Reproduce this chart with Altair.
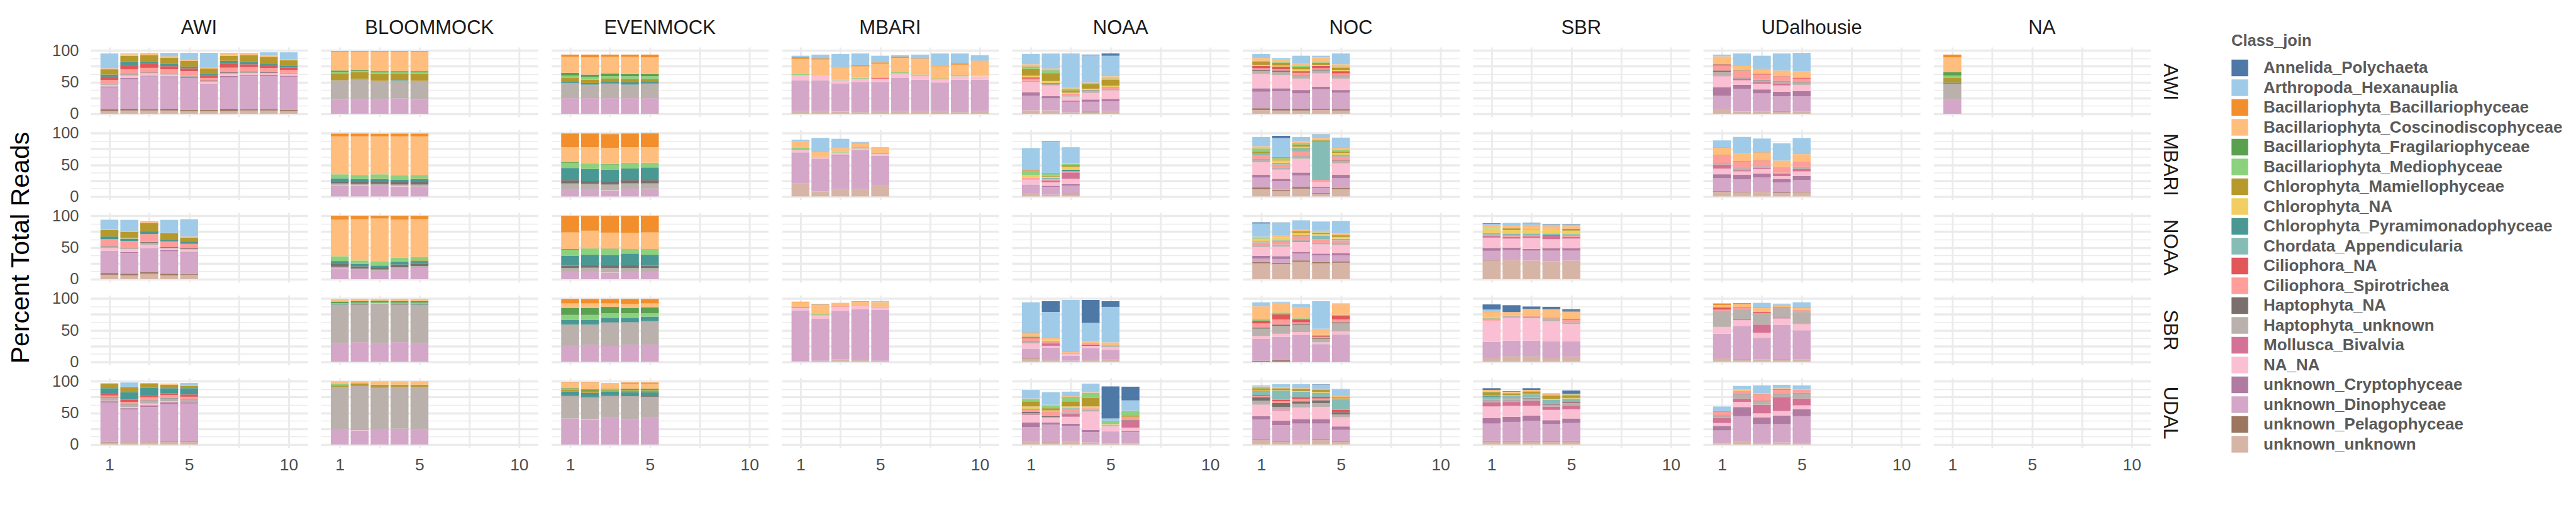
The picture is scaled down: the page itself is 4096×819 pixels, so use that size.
import altair as alt
import pandas as pd

CATEGORIES = [
    "Annelida_Polychaeta", "Arthropoda_Hexanauplia", "Bacillariophyta_Bacillariophyceae",
    "Bacillariophyta_Coscinodiscophyceae", "Bacillariophyta_Fragilariophyceae",
    "Bacillariophyta_Mediophyceae", "Chlorophyta_Mamiellophyceae", "Chlorophyta_NA",
    "Chlorophyta_Pyramimonadophyceae", "Chordata_Appendicularia", "Ciliophora_NA",
    "Ciliophora_Spirotrichea", "Haptophyta_NA", "Haptophyta_unknown", "Mollusca_Bivalvia",
    "NA_NA", "unknown_Cryptophyceae", "unknown_Dinophyceae", "unknown_Pelagophyceae",
    "unknown_unknown",
]
ABBR = ["AP", "AH", "BB", "BC", "BF", "BM", "CM", "CN", "CP", "CA", "CiN", "CS",
        "HN", "HU", "MB", "NN", "UC", "UD", "UP", "UU"]
COLORS = ["#4E79A7", "#A0CBE8", "#F28E2B", "#FFBE7D", "#59A14F", "#8CD17D", "#B6992D",
          "#F1CE63", "#499894", "#86BCB6", "#E15759", "#FF9D9A", "#79706E", "#BAB0AC",
          "#D37295", "#FABFD2", "#B07AA1", "#D4A6C8", "#9D7660", "#D7B5A6"]
SITES = ["AWI", "BLOOMMOCK", "EVENMOCK", "MBARI", "NOAA", "NOC", "SBR", "UDalhousie", "NA"]
LABS = ["AWI", "MBARI", "NOAA", "SBR", "UDAL"]
X_TICKS = [1, 3, 5, 7.5, 10]
Y_TICKS = [0, 12.5, 25, 37.5, 50, 62.5, 75, 87.5, 100]

# ---- row AWI ----
AWI_AWI = [
    dict(UU=4.2, UP=2.7, UD=34.5, UC=1.8, NN=2.4, HU=2.1, CS=5.4, CiN=5.4, CP=3.3, CM=8.4, BC=1.5, AH=23.4),
    dict(UU=5.1, UP=2.7, UD=46.8, UC=1.8, NN=3.9, HU=1.8, HN=0.9, CS=6.9, CiN=7.2, CP=4.5, CM=9.9, BC=2.4, AH=1.2),
    dict(UU=5.1, UP=1.8, UD=52.0, UC=1.2, NN=3.6, HU=0.9, HN=0.6, CS=7.2, CiN=6.0, CP=3.9, CM=10.2, BC=1.8, AH=1.5),
    dict(UU=5.1, UP=2.7, UD=49.8, UC=1.5, NN=2.7, HU=0.6, HN=0.6, CS=7.2, CiN=4.8, CP=3.9, CM=9.3, BC=1.5, BB=0.9, AH=5.4),
    dict(UU=4.2, UP=1.8, UD=50.4, UC=1.2, HU=2.4, CS=7.2, CiN=4.5, CP=2.7, CM=9.0, BC=1.8, AH=10.8),
    dict(UU=4.2, UP=1.8, UD=40.0, UC=0.9, NN=3.6, HU=0.9, HN=0.9, CS=4.2, CiN=4.5, CP=2.7, CM=7.5, BC=2.1, AH=22.8),
    dict(UU=4.2, UP=3.6, UD=49.8, UC=1.8, NN=3.3, HU=1.8, HN=0.9, CS=7.2, CiN=6.3, CP=4.5, CM=8.1, BC=2.7, BB=0.9),
    dict(UU=5.1, UP=1.8, UD=52.2, UC=1.8, NN=3.0, HU=1.5, HN=0.9, CS=7.2, CiN=4.5, CP=3.6, CM=10.8, BC=2.4, AH=1.2),
    dict(UU=5.1, UP=1.8, UD=52.2, UC=2.1, NN=2.4, HU=0.9, HN=0.9, CS=6.6, CiN=5.1, CP=2.7, CM=9.9, BC=1.8, AH=5.4),
    dict(UU=4.2, UP=1.8, UD=52.5, UC=1.5, NN=3.0, HU=0.9, HN=0.6, CS=4.5, CiN=3.6, CP=2.7, CM=9.0, BC=1.8, AH=10.8),
]
AWI_BLOOM = [
    dict(UD=22.5, HU=30.3, CM=11.1, BM=2.4, BF=1.8, BC=30.0, BB=0.9),
    dict(UU=0.9, UD=22.5, HU=30.6, CP=0.9, CM=10.8, BM=1.5, BF=1.8, BC=29.1, BB=0.9),
    dict(UD=23.4, HU=28.5, CM=10.8, BM=2.7, BF=1.8, BC=30.9, BB=0.9),
    dict(UD=24.3, HU=27.6, CP=1.2, CM=10.5, BM=1.8, BF=1.8, BC=30.9, BB=0.9),
    dict(UD=22.5, HU=29.4, CM=10.8, BM=2.7, BF=1.8, BC=30.9, BB=0.9),
]
AWI_EVEN = [
    dict(UD=24.6, HU=24.0, CP=2.7, CM=5.1, BM=3.6, BF=4.5, BC=25.2, BB=3.6),
    dict(UD=24.6, HU=21.3, CP=2.7, CM=5.1, BM=4.5, BF=3.6, BC=27.0, BB=4.5),
    dict(UD=24.6, HU=23.1, CP=2.7, CM=5.1, BM=3.9, BF=4.2, BC=26.1, BB=3.6),
    dict(UD=24.6, HU=21.3, CP=3.6, CM=5.4, BM=4.2, BF=3.6, BC=27.0, BB=3.6),
    dict(UD=24.6, HU=23.1, CP=2.7, CM=4.5, BM=4.2, BF=3.6, BC=26.1, BB=4.5),
]
AWI_MBARI = [
    dict(UU=4.5, UD=48.3, NN=8.1, BM=1.8, BC=23.7, BB=2.7, AH=2.4),
    dict(UU=4.5, UD=48.3, NN=7.2, BM=0.9, BC=24.6, BB=1.8, AH=6.0),
    dict(UU=3.3, UD=44.1, NN=5.4, BM=1.2, BC=18.9, BB=0.9, AH=20.4),
    dict(UU=2.7, UD=47.4, NN=5.4, BM=1.2, BC=18.0, BB=1.8, AH=18.6),
    dict(UU=4.5, UD=45.6, NN=5.4, CiN=1.2, BM=0.9, BC=21.6, BB=1.8, AH=10.5),
    dict(UU=4.5, UD=51.9, NN=7.2, BM=1.8, BC=22.8, BB=1.8, AH=2.4),
    dict(UU=4.5, UD=49.2, NN=6.3, BM=1.8, BC=24.6, BB=0.9, AH=6.0),
    dict(UU=4.5, UD=44.7, NN=4.8, BM=1.5, BC=19.2, BB=0.6, AH=19.8),
    dict(UU=2.7, UD=51.0, NN=5.4, BM=1.8, BC=16.5, BB=1.8, AH=15.9),
    dict(UU=4.5, UD=49.2, NN=5.4, CN=1.8, BC=21.9, BB=0.9, AH=8.7),
]
AWI_NOAA = [
    dict(UU=5.4, UD=23.1, UC=5.4, NN=16.2, HU=1.8, CS=3.6, CiN=1.8, CN=2.7, CM=10.8, BM=2.7, BF=0.9, BC=3.6, AH=16.3),
    dict(UU=5.4, UD=18.9, UC=3.6, NN=16.8, HU=1.8, HN=0.9, CiN=0.9, CN=3.3, CM=12.6, BM=3.6, BF=0.9, BC=2.7, AH=23.6),
    dict(UU=2.4, UD=16.5, UC=1.8, NN=6.3, HU=0.9, CS=3.9, CN=1.5, CM=3.9, BM=2.7, BC=1.5, AH=53.7),
    dict(UU=2.4, UP=1.2, UD=15.3, UC=3.6, NN=9.9, HU=1.8, CS=2.7, CP=0.9, CN=1.8, CM=6.9, BM=1.8, BC=0.9, AH=43.2, AP=0.9),
    dict(UU=4.5, UD=15.3, UC=3.6, NN=13.5, HU=1.8, CS=2.7, CP=0.9, CN=1.8, CM=9.6, BM=1.8, BC=3.6, AH=32.4, AP=3.6),
]
AWI_NOC = [
    dict(UU=6.0, UP=2.7, UD=26.1, UC=5.4, NN=22.5, HU=4.5, HN=1.8, CS=2.7, CiN=3.6, CN=1.8, CM=5.4, BM=0.9, BC=4.5, AH=6.3),
    dict(UU=5.1, UP=2.7, UD=27.9, UC=4.5, NN=20.7, HU=5.4, HN=1.8, CS=1.8, CiN=4.5, CN=1.8, CM=4.5, BM=1.8, BC=3.6, AH=1.8),
    dict(UU=5.1, UP=2.7, UD=24.3, UC=5.4, NN=18.0, HU=4.5, HN=0.9, CS=3.6, CiN=2.7, CN=2.7, CM=3.6, BM=1.8, BC=3.6, AH=12.6),
    dict(UU=6.0, UP=1.8, UD=30.6, UC=4.5, NN=20.7, HU=4.5, HN=1.8, CS=1.8, CiN=3.6, CN=1.8, CM=3.6, BM=1.8, BC=6.3, AH=2.7),
    dict(UU=5.1, UP=1.8, UD=26.1, UC=4.5, NN=18.0, HU=4.5, HN=0.9, CS=2.7, CiN=3.6, CN=1.8, CM=3.6, BM=1.8, BC=3.6, AH=17.1),
]
AWI_UDAL = [
    dict(UU=6.0, UD=22.5, UC=13.5, NN=17.1, MB=0.9, HU=6.3, HN=1.8, CS=8.1, CiN=1.8, BM=0.9, BC=11.7, AH=2.7),
    dict(UU=3.3, UD=36.0, UC=6.3, NN=7.2, MB=2.7, HU=2.7, CS=9.0, CiN=0.9, BM=0.9, BC=6.3, AH=19.8),
    dict(UU=3.3, UD=28.8, UC=6.3, NN=9.0, MB=2.7, HU=2.7, HN=0.9, CS=8.1, CiN=0.9, CM=0.9, BC=6.3, BB=0.9, AH=20.7),
    dict(UU=3.3, UP=0.9, UD=23.4, UC=7.2, NN=9.9, MB=2.7, HU=3.6, HN=0.9, CS=6.3, CiN=0.9, BC=9.0, AH=27.0),
    dict(UU=3.3, UD=24.3, UC=8.1, NN=9.9, HU=3.6, HN=0.9, CS=5.4, CiN=0.9, BM=0.9, BC=9.9, AH=28.8),
]
AWI_NA = [
    dict(UD=23.1, HU=24.3, CP=1.8, CM=7.2, BM=3.6, BF=5.4, BC=23.4, BB=4.5),
]

# ---- row MBARI ----
MBARI_BLOOM = [
    dict(UD=17.5, NN=0.9, HU=2.1, HN=3.6, CP=4.5, BM=6.3, BC=59.8, BB=4.2, AH=1.2),
    dict(UD=16.6, NN=0.9, HU=2.1, HN=4.5, CP=3.6, BM=6.3, BC=60.7, BB=4.2, AH=1.2),
    dict(UD=17.5, HU=2.1, HN=4.5, CP=3.6, CM=0.9, BM=6.3, BC=59.8, BB=4.2),
    dict(UD=15.7, NN=0.9, HU=2.1, HN=4.5, CP=3.6, BM=6.3, BC=61.6, BB=4.2, AH=1.2),
    dict(UD=15.7, HU=3.0, HN=5.4, CP=3.6, CM=0.9, BM=5.4, BC=60.7, BB=4.2, AH=1.2),
]
MBARI_EVEN = [
    dict(UD=11.5, HU=9.0, HN=5.4, CP=19.0, BM=8.2, BF=0.9, BC=23.6, BB=21.7),
    dict(UD=11.5, HU=8.2, HN=4.5, CP=19.0, BM=9.0, BC=25.4, BB=21.7),
    dict(UD=8.8, NN=0.9, HU=9.0, HN=5.4, CP=18.1, BM=8.2, BF=0.9, BC=25.4, BB=21.7, AH=0.9),
    dict(UD=12.4, HU=8.2, HN=5.4, CP=18.1, BM=9.0, BC=24.5, BB=21.7),
    dict(UD=11.5, NN=0.6, HU=8.5, HN=5.4, CP=19.0, CM=0.9, BM=7.3, BC=24.5, BB=21.7, AH=0.9),
]
MBARI_MBARI = [
    dict(UU=20.5, UD=49.0, NN=3.6, BM=3.6, BC=10.9, AH=1.8),
    dict(UU=7.9, UD=51.7, NN=1.8, CS=0.9, BC=7.3, BB=0.9, AH=21.8),
    dict(UU=11.5, UD=53.5, UC=0.9, NN=2.7, CS=0.6, BM=0.9, BC=6.3, AH=14.5),
    dict(UU=11.5, UD=61.6, NN=2.7, BM=1.8, BC=6.3, BB=0.9, AH=0.9),
    dict(UU=16.9, UD=47.1, NN=2.7, BM=1.8, BC=8.2, AH=0.9),
]
MBARI_NOAA = [
    dict(UU=4.5, UD=13.3, UC=0.9, NN=8.2, MB=0.6, CS=1.8, CN=4.5, BM=6.3, BB=0.9, AH=35.3),
    dict(UU=2.7, UD=12.4, UC=1.8, NN=5.4, MB=2.7, CS=1.8, CA=2.7, CN=1.8, CM=1.2, BM=3.6, BB=0.9, AH=48.9, AP=0.9),
    dict(UU=3.6, UP=0.9, UD=12.4, UC=2.7, NN=8.2, MB=10.0, CS=1.8, CP=2.7, CN=4.5, CM=2.7, BM=1.8, BC=0.9, AH=25.4),
]
MBARI_NOC = [
    dict(UU=11.5, UP=2.7, UD=15.4, UC=4.5, NN=19.9, HU=4.5, HN=0.9, CS=5.4, CA=2.7, CM=3.6, BM=4.5, BC=3.6, AH=14.5),
    dict(UU=8.8, UP=1.8, UD=13.6, UC=3.6, NN=14.5, HU=3.6, CS=4.5, CA=2.7, CN=3.6, CM=1.8, BM=1.8, BB=1.8, AH=29.9, AP=3.6),
    dict(UU=12.4, UP=2.7, UD=18.1, UC=4.5, NN=21.7, HU=4.5, CS=6.3, CA=4.5, CP=0.9, CN=2.7, CM=3.6, BM=1.8, BC=3.6, AH=6.3),
    dict(UU=4.5, UP=0.9, UD=7.9, UC=1.8, NN=8.2, HU=0.9, CS=1.8, CA=60.7, CM=1.8, BM=0.9, BC=2.7, AH=4.5, AP=0.9),
    dict(UU=11.5, UP=1.8, UD=15.4, UC=5.4, NN=18.1, HU=3.6, HN=0.9, CS=6.3, CA=2.7, CN=2.7, CM=2.7, BM=1.8, BC=3.6, BB=0.9, AH=15.4),
]
MBARI_UDAL = [
    dict(UU=7.3, UP=0.9, UD=20.5, UC=6.3, NN=9.0, MB=6.3, HU=2.7, CS=11.8, CM=0.9, BC=10.9, BB=0.9, AH=10.9),
    dict(UU=6.3, UP=0.9, UD=19.6, UC=7.3, NN=5.4, MB=1.8, HU=3.6, CS=10.0, CM=0.9, BC=11.8, AH=26.3),
    dict(UU=7.3, UD=22.4, UC=6.3, NN=7.3, MB=1.8, HU=2.7, CS=9.0, CM=0.9, BC=10.9, BB=0.9, AH=21.8),
    dict(UU=5.4, UP=0.9, UD=16.0, UC=5.4, NN=4.5, MB=3.6, HU=1.8, CS=9.0, BC=10.0, AH=27.2),
    dict(UU=6.3, UP=0.9, UD=18.7, UC=6.3, NN=7.3, MB=3.6, HU=3.6, CS=8.2, BC=11.8, AH=25.4),
]

# ---- row NOAA ----
NOAA_AWI = [
    dict(UU=7.0, UP=2.7, UD=35.0, NN=4.5, HU=2.1, HN=0.9, CS=10.8, CP=4.2, CM=10.5, BC=1.5, AH=14.5),
    dict(UU=6.0, UP=2.7, UD=32.5, UC=1.8, NN=4.2, HU=1.2, HN=0.6, CS=11.1, CP=3.9, CN=0.9, CM=9.9, BC=1.2, AH=17.5),
    dict(UU=8.7, UP=2.7, UD=37.7, NN=4.8, HU=3.6, HN=1.2, CS=12.3, CP=4.5, CM=12.7, BC=1.8, AH=1.2),
    dict(UU=6.0, UP=2.7, UD=35.2, UC=1.8, NN=2.7, HU=1.2, HN=0.9, CS=9.0, CP=3.0, CM=9.9, BC=0.6, AH=20.5),
    dict(UU=7.0, UP=1.2, UD=34.0, UC=0.9, NN=3.6, HU=0.9, HN=0.9, CS=7.2, CP=3.6, CM=6.3, BC=1.5, AH=27.4),
]
NOAA_BLOOM = [
    dict(UD=16.9, NN=0.6, HU=2.1, HN=4.2, CP=4.8, BM=7.5, BC=57.5, BB=6.3),
    dict(UD=15.0, HU=1.8, HN=3.6, CP=3.6, BM=5.4, BC=65.0, BB=5.4),
    dict(UD=13.0, HU=2.1, HN=3.6, CP=2.7, CM=0.9, BM=5.4, BC=67.8, BB=4.5),
    dict(UD=16.9, HU=1.8, HN=4.5, CP=3.6, CM=0.9, BM=6.3, BC=59.6, BB=6.3),
    dict(UD=17.8, HU=2.7, HN=3.6, CP=4.5, CM=0.9, BM=5.7, BC=59.3, BB=5.4),
]
NOAA_EVEN = [
    dict(UD=11.1, HU=6.3, HN=3.9, CP=15.4, BM=9.9, BF=0.9, BC=26.2, BB=26.2),
    dict(UD=11.7, HU=6.3, HN=3.9, CP=16.6, BM=9.9, BC=28.0, BB=23.5),
    dict(UD=9.9, NN=0.6, HU=6.9, HN=4.5, CP=16.3, BM=9.0, BF=0.9, BC=25.3, BB=26.5),
    dict(UD=11.1, HU=6.3, HN=4.5, CP=18.4, BM=7.2, BC=25.3, BB=27.1),
    dict(UD=11.1, HU=6.3, HN=3.9, CP=17.2, BM=9.0, BC=26.2, BB=26.3),
]
NOAA_NOC = [
    dict(UU=25.0, UP=1.8, UD=5.4, UC=4.5, NN=14.0, HU=2.7, CS=4.5, CA=1.8, CN=3.6, BM=0.9, BC=2.7, AH=20.8, AP=1.8),
    dict(UU=24.0, UP=1.8, UD=6.0, UC=4.5, NN=15.0, HU=3.6, CS=4.5, CA=1.8, CN=3.6, BM=0.9, BC=3.6, AH=19.0, AP=0.9),
    dict(UU=27.7, UP=1.8, UD=10.9, UC=2.7, NN=15.4, MB=0.9, HU=2.7, CS=5.4, CA=1.8, CN=3.6, CM=2.7, BC=3.6, AH=13.5),
    dict(UU=25.0, UP=1.8, UD=10.8, UC=2.7, NN=14.5, HU=2.7, CS=5.4, CA=5.4, CN=2.7, CM=1.8, BM=0.9, BC=2.7, AH=14.5),
    dict(UU=25.9, UP=1.8, UD=9.9, UC=3.6, NN=12.7, HU=3.6, CS=3.6, CA=2.7, CN=2.7, CM=2.7, BC=2.7, AH=19.9),
]
NOAA_SBR = [
    dict(UU=29.2, UP=0.6, UD=14.9, UC=4.5, NN=16.3, MB=2.7, CS=1.8, CA=2.7, CN=7.2, BM=0.9, BC=4.5, AH=1.8, AP=0.9),
    dict(UU=30.1, UD=15.7, UC=3.6, NN=14.5, MB=2.7, CS=1.8, CA=3.6, CN=5.4, CM=2.7, BC=4.5, BB=0.5, AH=3.6),
    dict(UU=29.2, UD=15.7, UC=2.7, NN=17.2, MB=2.7, CS=1.8, CA=2.7, CN=6.3, BM=0.9, BC=4.5, BB=0.6, AH=3.6, AP=0.9),
    dict(UU=28.3, UD=16.6, UC=3.6, NN=14.5, MB=5.4, CiN=0.9, CA=2.7, CN=6.3, BC=4.5, BB=0.6, AH=1.8, AP=0.9),
    dict(UU=29.2, UD=15.7, UC=3.6, NN=15.4, MB=2.7, CS=1.8, CA=2.7, CN=5.4, CM=2.7, BC=4.5, AH=1.8, AP=0.9),
]

# ---- row SBR ----
SBR_BLOOM = [
    dict(UD=29.8, HU=60.5, CP=1.2, BM=0.9, BF=2.7, BC=3.6),
    dict(UD=31.0, HU=59.3, HN=1.8, BM=0.9, BF=2.7, BC=3.6),
    dict(UD=29.8, HU=61.4, HN=0.6, CN=0.9, BM=0.9, BF=2.7, BC=2.7),
    dict(UD=31.0, HU=59.3, HN=1.8, BM=0.9, BF=2.7, BC=3.6),
    dict(UD=29.8, HU=59.6, HN=0.9, CP=0.9, BM=1.8, BF=2.7, BC=3.6),
]
SBR_EVEN = [
    dict(UD=26.2, HU=32.5, CP=7.2, BM=8.1, BF=10.8, BC=7.2, BB=7.2),
    dict(UD=27.1, HU=31.6, CP=7.2, BM=8.1, BF=10.8, BC=7.2, BB=7.2),
    dict(UD=25.3, HU=36.1, HN=0.9, CP=7.2, BM=7.2, BF=9.9, BC=5.4, BB=7.2),
    dict(UD=27.1, HU=35.2, CP=7.2, BM=7.2, BF=8.1, BC=6.3, BB=8.1),
    dict(UD=27.1, HU=37.0, CP=7.2, BM=5.4, BF=9.0, BC=6.3, BB=7.2),
]
SBR_MBARI = [
    dict(UU=0.9, UD=80.4, NN=3.6, CiN=0.9, BC=8.1, BB=0.9),
    dict(UU=1.8, UD=66.0, NN=5.4, BM=1.8, BC=14.5, BB=0.9, AH=0.9),
    dict(UU=3.6, UD=76.8, NN=6.3, CS=0.9, BC=5.4),
    dict(UU=2.7, UD=80.4, NN=5.4, BM=0.9, BC=5.4, BB=0.9),
    dict(UU=1.8, UD=80.4, NN=3.6, BF=0.6, BM=0.6, BC=7.2, AH=1.8),
]
SBR_NOAA = [
    dict(UU=5.4, UP=0.9, UD=14.5, NN=8.1, HU=2.7, HN=0.9, CS=4.5, CiN=1.8, BF=0.9, BC=5.4, BB=0.9, AH=47.9),
    dict(UU=2.7, UD=19.9, NN=2.7, MB=3.6, HN=0.9, CS=3.6, CN=0.9, BC=3.6, BB=0.9, AH=39.8, AP=17.0),
    dict(UU=1.8, UD=8.1, NN=2.7, CS=1.8, BC=1.8, BB=0.9, AH=80.4),
    dict(UU=2.7, UD=19.0, NN=3.6, HN=0.9, CS=3.6, BC=2.7, AH=28.9, AP=36.1),
    dict(UU=3.6, UD=15.4, NN=4.5, HU=1.8, CS=0.9, BC=4.5, AH=56.0, AP=9.0),
]
SBR_NOC = [
    dict(UP=1.8, UD=34.3, NN=4.5, HU=11.7, HN=1.8, CS=6.3, CiN=4.5, BM=2.7, BC=19.9, AH=6.3),
    dict(UP=2.7, UD=37.0, NN=4.5, HU=12.7, HN=1.8, CS=8.1, CiN=8.1, BM=2.7, BC=15.4, AH=1.8),
    dict(UP=0.9, UD=41.6, NN=4.5, HU=11.7, HN=1.8, CS=1.8, CiN=4.5, BM=1.8, BC=17.2, AH=5.4),
    dict(UP=0.9, UD=27.1, NN=2.7, HU=5.4, HN=0.9, CS=1.8, CiN=1.8, BM=1.8, BC=9.9, AH=43.4),
    dict(UP=0.9, UD=42.5, NN=4.5, HU=12.7, HN=1.8, CS=4.5, CiN=6.3, BM=0.9, BC=17.2, AH=0.9),
]
SBR_SBR = [
    dict(UU=5.4, UD=26.2, NN=33.4, CS=2.7, CiN=0.6, BM=0.9, BC=9.0, BB=0.6, AH=3.6, AP=8.1),
    dict(UU=8.1, UP=0.6, UD=24.7, NN=36.1, HU=2.7, CS=0.9, BC=5.4, AP=10.8),
    dict(UU=8.1, UP=0.6, UD=24.7, NN=35.2, HU=0.9, HN=0.9, CS=1.8, BM=0.9, BC=9.9, BB=0.6, AP=3.6),
    dict(UU=5.4, UD=27.1, NN=31.6, HU=2.7, CS=1.8, BF=0.9, BC=12.7, BB=0.9, AP=3.6),
    dict(UU=8.1, UD=24.4, NN=27.1, HU=2.7, CS=3.6, CiN=0.9, BM=0.9, BC=10.8, BB=1.8, AP=2.7),
]
SBR_UDAL = [
    dict(UU=5.4, UD=38.9, NN=10.8, HU=25.3, CS=1.8, CiN=3.6, BC=3.6, BB=2.7),
    dict(UU=3.6, UP=0.6, UD=52.4, NN=9.0, MB=1.8, HU=15.4, CS=1.8, CiN=0.9, BM=0.9, BC=4.5, BB=1.8),
    dict(UU=3.6, UD=34.3, NN=8.1, MB=12.7, HU=18.1, CiN=1.8, BC=6.3, BB=0.9, AH=7.2),
    dict(UU=3.6, UP=0.6, UD=54.2, NN=9.9, MB=1.8, HU=14.5, CiN=0.9, BM=0.9, BC=2.7, BB=0.9, AH=1.8),
    dict(UU=3.6, UD=46.1, NN=9.9, MB=0.9, HU=18.1, CS=1.8, CiN=0.9, BC=3.6, BB=0.9, AH=8.1),
]

# ---- row UDAL ----
UDAL_AWI = [
    dict(UU=3.3, UP=0.9, UD=62.2, UC=1.8, NN=0.9, HU=4.5, HN=0.9, CS=2.7, CiN=2.7, CP=9.0, CM=6.3, AH=1.8),
    dict(UU=3.6, UP=0.9, UD=51.0, UC=1.8, NN=1.8, HU=4.5, HN=0.9, CS=2.7, CiN=3.6, CP=11.7, CM=8.1, AH=7.2),
    dict(UU=3.6, UP=0.9, UD=54.7, UC=2.7, NN=2.7, HU=4.5, HN=0.9, CS=4.5, CiN=3.6, CP=11.7, CM=6.3, BC=0.9),
    dict(UU=4.2, UP=0.9, UD=58.6, UC=2.7, NN=1.8, HU=4.5, HN=0.9, CS=4.5, CiN=2.7, CP=8.1, CM=5.4, BC=0.9, BB=0.6),
    dict(UU=4.2, UP=0.9, UD=59.5, UC=1.8, NN=0.9, HU=3.6, HN=0.9, CS=3.6, CiN=3.6, CP=9.9, CM=3.6, AH=4.5),
]
UDAL_BLOOM = [
    dict(UD=23.1, HU=67.6, CM=2.7, BM=1.8, BC=4.5),
    dict(UD=22.2, NN=0.6, HU=69.7, CP=0.6, CM=2.1, BF=0.9, BC=3.6),
    dict(UD=23.1, HU=66.7, HN=0.9, CM=2.7, BF=0.9, BC=5.4),
    dict(UD=24.9, HU=65.8, CM=2.7, BF=0.9, BC=5.4),
    dict(UD=24.0, HU=66.7, CM=2.7, BF=0.9, BC=5.4),
]
UDAL_EVEN = [
    dict(UD=41.1, HU=35.1, HN=0.6, CP=6.6, CM=2.7, BM=0.9, BF=1.8, BC=8.1, BB=0.9),
    dict(UD=39.3, NN=0.9, HU=34.2, HN=0.9, CP=6.3, CM=3.6, BF=1.8, BC=9.9, BB=0.9),
    dict(UD=42.0, HU=34.2, HN=0.6, CP=6.6, CM=1.8, BM=1.8, BF=0.9, BC=8.1, BB=0.6),
    dict(UD=40.2, HU=36.0, CP=6.3, CM=2.7, BM=0.9, BF=1.8, BC=8.1, BB=1.8),
    dict(UD=42.0, HU=33.3, HN=0.9, CP=6.3, CM=2.7, BM=0.9, BF=1.8, BC=8.1, BB=1.8),
]
UDAL_NOAA = [
    dict(UU=5.1, UD=22.5, UC=7.2, NN=11.7, MB=0.9, HU=1.8, HN=2.7, CS=3.6, CP=0.9, CN=3.6, CM=8.1, BM=3.6, BC=0.9, AH=13.5),
    dict(UU=3.0, UP=0.6, UD=27.6, UC=3.6, NN=8.1, HN=1.8, CS=7.2, CA=0.9, CN=0.9, CM=3.6, BM=4.5, BC=0.9, AH=19.9),
    dict(UU=4.2, UD=25.2, UC=3.6, NN=10.8, MB=4.5, HU=2.7, CS=5.4, CA=0.9, CN=2.7, CM=8.1, BM=7.2, BC=0.9, AH=7.2),
    dict(UU=3.3, UD=16.2, UC=3.6, NN=28.8, HU=2.7, CS=2.7, CN=2.7, CM=13.5, BM=8.1, BC=0.9, AH=13.5),
    dict(UU=1.5, UD=18.0, UC=0.9, NN=8.1, HU=0.9, CS=1.8, CN=0.9, BM=4.5, AH=4.5, AP=50.5),
    dict(UU=1.5, UD=18.0, UC=1.8, NN=5.4, MB=10.8, HN=0.9, CS=5.4, CM=1.8, BM=7.2, BC=0.6, AH=16.2, AP=21.6),
]
UDAL_NOC = [
    dict(UU=7.8, UP=0.9, UD=30.6, UC=5.4, NN=18.0, HU=6.3, HN=5.4, CS=1.8, CiN=1.8, CA=6.3, CN=0.9, CM=3.6, BM=1.8, BC=0.9, AH=1.8),
    dict(UU=4.2, UP=0.9, UD=25.2, UC=7.2, NN=16.2, MB=0.9, HU=4.5, HN=6.3, CS=2.7, CiN=2.7, CA=14.4, CN=0.9, CM=2.7, BC=0.9, AH=5.4),
    dict(UU=6.0, UD=27.0, UC=7.2, NN=18.0, HU=6.3, HN=3.6, CS=3.6, CiN=2.7, CA=9.0, CN=0.9, CM=3.6, BC=0.9, AH=6.3),
    dict(UU=6.9, UP=0.9, UD=25.2, UC=7.2, NN=18.9, HU=6.3, HN=4.5, CS=2.7, CiN=2.7, CA=6.3, CN=0.9, CM=3.6, BM=0.9, BC=0.9, AH=6.3, AP=0.6),
    dict(UU=4.2, UP=0.9, UD=18.0, UC=5.4, NN=14.4, HU=4.5, HN=3.6, CiN=3.6, CA=17.1, CN=0.9, CM=1.8, BC=1.8, BB=0.6, AH=10.8),
]
UDAL_SBR = [
    dict(UU=5.1, UP=0.9, UD=27.0, UC=9.0, NN=18.0, MB=6.3, HU=3.6, HN=0.9, CS=0.9, CA=3.6, CP=0.9, CN=0.9, CM=5.4, BM=0.9, BC=2.7, AP=2.7),
    dict(UU=5.1, UP=0.9, UD=29.7, UC=8.1, NN=17.1, MB=6.3, HU=2.7, HN=0.9, CS=0.9, CiN=0.9, CA=4.5, CN=0.9, CM=2.7, BM=0.9, BC=1.8, AP=0.9),
    dict(UU=5.1, UP=0.9, UD=31.5, UC=8.1, NN=15.3, MB=8.1, HU=3.6, HN=0.9, CS=0.9, CA=3.6, CP=0.9, CN=0.9, CM=3.6, BM=0.9, BC=1.8, AP=2.7),
    dict(UU=4.2, UP=0.9, UD=27.0, UC=6.3, NN=16.2, MB=5.4, HU=2.7, HN=0.9, CiN=0.9, CA=6.3, CN=0.9, CM=5.4, BM=0.9, BC=0.9, BB=0.6, AP=0.9),
    dict(UU=5.1, UP=0.9, UD=27.9, UC=7.2, NN=14.4, MB=6.3, HU=3.6, HN=0.9, CiN=0.9, CA=5.4, CN=0.9, CM=3.6, BM=1.8, BC=0.9, AP=5.4),
]
UDAL_UDAL = [
    dict(UU=1.5, UD=20.7, UC=7.2, NN=4.5, MB=8.1, HU=2.7, HN=0.9, CS=6.3, CiN=0.9, AH=7.2),
    dict(UU=5.1, UD=39.6, UC=14.4, NN=8.1, MB=5.4, HU=6.3, HN=0.9, CS=4.5, BC=2.7, AH=5.4),
    dict(UU=2.4, UD=29.7, UC=10.8, NN=6.3, MB=13.5, HU=5.4, HN=0.9, CS=9.0, CiN=0.9, BC=1.8, AH=12.6),
    dict(UU=3.3, UD=28.8, UC=13.5, NN=7.2, MB=21.6, HU=4.5, HN=0.9, CS=6.3, CiN=0.9, BC=1.8, AH=5.4),
    dict(UU=2.4, UD=42.3, UC=10.8, NN=6.3, MB=10.8, HU=8.1, HN=0.9, CS=4.5, BC=0.9, AH=6.3),
]

PANELS = {
    ("AWI", "AWI"): AWI_AWI, ("AWI", "BLOOMMOCK"): AWI_BLOOM, ("AWI", "EVENMOCK"): AWI_EVEN,
    ("AWI", "MBARI"): AWI_MBARI, ("AWI", "NOAA"): AWI_NOAA, ("AWI", "NOC"): AWI_NOC,
    ("AWI", "UDalhousie"): AWI_UDAL, ("AWI", "NA"): AWI_NA,
    ("MBARI", "BLOOMMOCK"): MBARI_BLOOM, ("MBARI", "EVENMOCK"): MBARI_EVEN,
    ("MBARI", "MBARI"): MBARI_MBARI, ("MBARI", "NOAA"): MBARI_NOAA, ("MBARI", "NOC"): MBARI_NOC,
    ("MBARI", "UDalhousie"): MBARI_UDAL,
    ("NOAA", "AWI"): NOAA_AWI, ("NOAA", "BLOOMMOCK"): NOAA_BLOOM, ("NOAA", "EVENMOCK"): NOAA_EVEN,
    ("NOAA", "NOC"): NOAA_NOC, ("NOAA", "SBR"): NOAA_SBR,
    ("SBR", "BLOOMMOCK"): SBR_BLOOM, ("SBR", "EVENMOCK"): SBR_EVEN, ("SBR", "MBARI"): SBR_MBARI,
    ("SBR", "NOAA"): SBR_NOAA, ("SBR", "NOC"): SBR_NOC, ("SBR", "SBR"): SBR_SBR,
    ("SBR", "UDalhousie"): SBR_UDAL,
    ("UDAL", "AWI"): UDAL_AWI, ("UDAL", "BLOOMMOCK"): UDAL_BLOOM, ("UDAL", "EVENMOCK"): UDAL_EVEN,
    ("UDAL", "NOAA"): UDAL_NOAA, ("UDAL", "NOC"): UDAL_NOC, ("UDAL", "SBR"): UDAL_SBR,
    ("UDAL", "UDalhousie"): UDAL_UDAL,
}

records = []
for lab in LABS:
    for site in SITES:
        bars = PANELS.get((lab, site))
        if not bars:
            # empty panel: a zero-height placeholder so the cell (grid) is drawn
            records.append(dict(lab=lab, site=site, sample=1, cat=CATEGORIES[-1], order=0, pct=0.0))
            continue
        for i, bar in enumerate(bars, start=1):
            for ab, v in bar.items():
                k = ABBR.index(ab)
                records.append(dict(lab=lab, site=site, sample=i, cat=CATEGORIES[k],
                                    order=len(ABBR) - 1 - k, pct=v))
df = pd.DataFrame(records)

FONT = "Liberation Sans"
GRID = "#EBEBEB"

bars = alt.Chart(df).transform_stack(
    stack="pct", groupby=["lab", "site", "sample"], as_=["y0", "y1"],
    sort=[alt.SortField("order", order="ascending")],
).transform_calculate(
    xs="datum.sample - 0.45", xe="datum.sample + 0.45"
).mark_bar(strokeWidth=0).encode(
    x=alt.X("xs:Q", title=None,
            scale=alt.Scale(domain=[0.055, 10.945], nice=False, zero=False),
            axis=alt.Axis(values=X_TICKS,
                          labelExpr="(datum.value == 3 || datum.value == 7.5) ? '' : datum.label",
                          ticks=False, domain=False, grid=True, gridColor=GRID,
                          gridWidth=2.9,
                          labelFont=FONT, labelFontSize=26.5, labelColor="#4D4D4D",
                          labelPadding=14, labelFlush=False)),
    x2="xe:Q",
    y=alt.Y("y0:Q", title=None,
            scale=alt.Scale(domain=[-5, 105], nice=False, zero=False),
            axis=alt.Axis(values=Y_TICKS,
                          labelExpr="datum.value % 25 == 0 ? datum.label : ''",
                          ticks=False, domain=False, grid=True, gridColor=GRID,
                          gridWidth={"condition": {"test": "datum.value % 25 != 0", "value": 1.7}, "value": 3.5},
                          labelFont=FONT, labelFontSize=25.5, labelColor="#4D4D4D",
                          labelPadding=19)),
    y2="y1:Q",
    color=alt.Color("cat:N", scale=alt.Scale(domain=CATEGORIES, range=COLORS),
                    legend=alt.Legend(title="Class_join", orient="none",
                                      legendX=3404, legendY=-22, padding=0,
                                      symbolType="square", symbolSize=700, symbolStrokeWidth=0,
                                      symbolOpacity=1,
                                      labelFont=FONT, labelFontSize=26, labelFontWeight="bold",
                                      labelColor="#5A5A5A", labelLimit=900, labelOffset=24,
                                      titleFont=FONT, titleFontSize=25.5, titleFontWeight="bold",
                                      titleColor="#5A5A5A", titlePadding=16, rowPadding=4.5)),
).properties(width=345, height=111)

chart = bars.facet(
    row=alt.Row("lab:N", sort=LABS, title="Percent Total Reads",
                header=alt.Header(labelOrient="right", labelAngle=90, labelFont=FONT,
                                  labelFontSize=31.5, labelColor="#1A1A1A", labelPadding=14,
                                  titleOrient="left", titleFont=FONT, titleFontSize=41,
                                  titleFontWeight="normal", titleColor="#000000",
                                  titlePadding=17, titleLimit=2000)),
    column=alt.Column("site:N", sort=SITES, title=None,
                      header=alt.Header(labelOrient="top", labelFont=FONT, labelFontSize=31,
                                        labelColor="#1A1A1A", labelPadding=14)),
    spacing={"row": 20.5, "column": 21.3},
).properties(
    padding={"left": 4, "top": 21, "right": 5, "bottom": 5}
).configure_view(stroke=None).configure_axis(labelFont=FONT)

chart.save("out.html", embed_options={"renderer": "svg", "actions": False})
